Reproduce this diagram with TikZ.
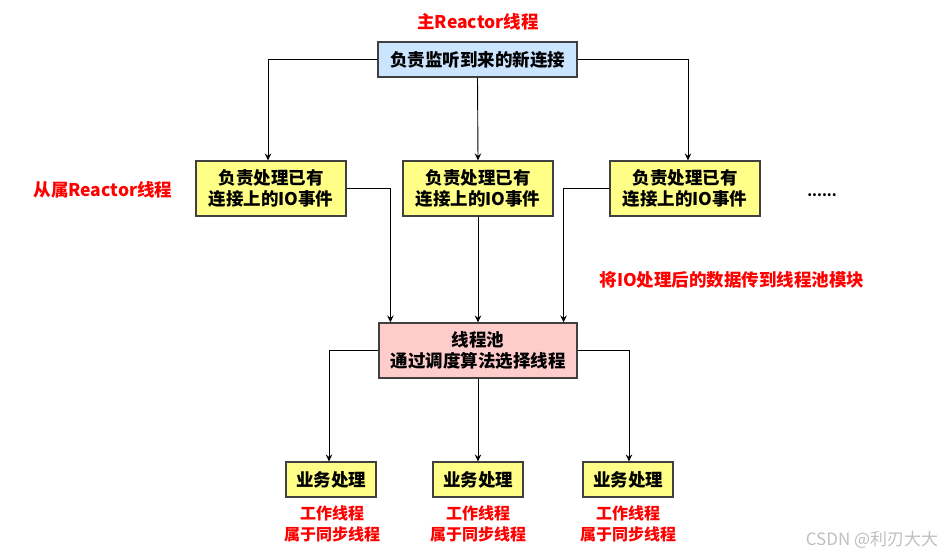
\documentclass[tikz,border=0pt]{standalone}
\usepackage{fontspec}
\setmainfont{Noto Sans CJK SC}
\usetikzlibrary{arrows.meta,calc}
\definecolor{topblue}{HTML}{CCE5FF}
\definecolor{boxyellow}{HTML}{FFFF88}
\definecolor{poolpink}{HTML}{FFCCCC}
\definecolor{edgegray}{HTML}{404040}
\definecolor{labred}{HTML}{FF0000}
\begin{document}
\begin{tikzpicture}[x=1pt,y=-1pt,
  box/.style={draw=edgegray,line width=1.2pt,rectangle,inner sep=0pt,align=center,
    font=\fontsize{17.5}{21.5}\selectfont\bfseries},
  redlab/.style={text=labred,inner sep=0pt,align=center,font=\fontsize{17.5}{21}\selectfont\bfseries},
  redsmall/.style={text=labred,inner sep=0pt,align=center,font=\fontsize{16}{21}\selectfont\bfseries},
  conn/.style={draw=black,line width=0.9pt,-{Stealth[length=7pt,width=6.5pt,inset=2.5pt]}}
]
\useasboundingbox (0,0) rectangle (951,557);
% title
\node[redlab] (title) at (478,22) {主Reactor线程};
% top box
\node[box,fill=topblue,minimum width=199pt,minimum height=35pt] (top) at (477.5,59.5) {负责监听到来的新连接};
% middle boxes
\node[box,fill=boxyellow,minimum width=150pt,minimum height=55pt] (m1) at (271,188.5) {负责处理已有\\连接上的IO事件};
\node[box,fill=boxyellow,minimum width=150pt,minimum height=55pt] (m2) at (478,188.5) {负责处理已有\\连接上的IO事件};
\node[box,fill=boxyellow,minimum width=150pt,minimum height=55pt] (m3) at (685,188.5) {负责处理已有\\连接上的IO事件};
\node[inner sep=0pt,font=\fontsize{14}{14}\selectfont\bfseries] (dots) at (822,195) {......};
\node[redlab] (slave) at (103,190) {从属Reactor线程};
\node[redlab] (note) at (732,280) {将IO处理后的数据传到线程池模块};
% pool
\node[box,fill=poolpink,minimum width=198pt,minimum height=55pt] (pool) at (478,350.5) {线程池\\通过调度算法选择线程};
% bottom boxes
\node[box,fill=boxyellow,minimum width=90pt,minimum height=35pt] (b1) at (331,479.5) {业务处理};
\node[box,fill=boxyellow,minimum width=90pt,minimum height=35pt] (b2) at (478,479.5) {业务处理};
\node[box,fill=boxyellow,minimum width=90pt,minimum height=35pt] (b3) at (628,479.5) {业务处理};
\node[redsmall] (l1) at (332,524) {工作线程\\属于同步线程};
\node[redsmall] (l2) at (478,524) {工作线程\\属于同步线程};
\node[redsmall] (l3) at (628,524) {工作线程\\属于同步线程};
% watermark
\node[text=black!25,inner sep=0pt,font=\fontsize{17}{17}\selectfont] (wm) at (872,540) {CSDN @利刃大大};
% connectors
\draw[conn] (top.west) -| ([xshift=-3pt]m1.north);
\draw[conn] (top.east) -| ([xshift=3pt]m3.north);
\draw[conn] (top.south) -- (m2.north);
\draw[conn] (m1.east) -| ($(pool.north west)+(12,0)$);
\draw[conn] (m2.south) -- (pool.north);
\draw[conn] (m3.west) -| ($(pool.north east)+(-14,0)$);
\draw[conn] (pool.west) -| ([xshift=-2pt]b1.north);
\draw[conn] (pool.south) -- (b2.north);
\draw[conn] (pool.east) -| ([xshift=1pt]b3.north);
\end{tikzpicture}
\end{document}
